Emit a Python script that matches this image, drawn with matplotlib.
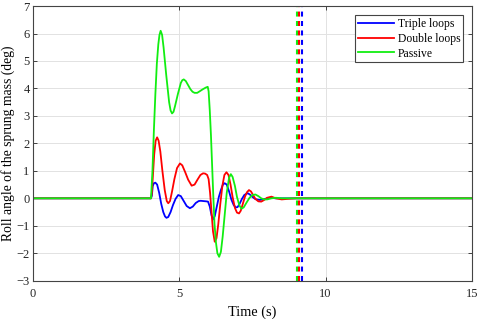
import matplotlib
matplotlib.use("Agg")
import matplotlib.pyplot as plt

plt.rcParams['font.family'] = ['Liberation Serif', 'DejaVu Serif']
plt.rcParams['lines.scale_dashes'] = False

# roll angle (deg)
t_triple = [0, 4.03, 4.06, 4.09, 4.13, 4.18, 4.24, 4.31, 4.38, 4.45, 4.51, 4.56, 4.62,
            4.70, 4.78, 4.87, 4.96, 5.05, 5.15, 5.25, 5.36, 5.46, 5.56, 5.66, 5.73,
            5.82, 5.92, 5.98, 6.04, 6.10, 6.15, 6.21, 6.28, 6.35, 6.42, 6.49, 6.55,
            6.62, 6.70, 6.78, 6.86, 6.93, 6.99, 7.06, 7.14, 7.22, 7.30, 7.35, 7.42,
            7.50, 7.60, 7.75, 7.90, 8.10, 8.30, 8.60, 15]
v_triple = [0, 0, 0.1, 0.45, 0.55, 0.57, 0.5, 0.2, -0.2, -0.5, -0.66, -0.71, -0.68,
            -0.5, -0.25, -0.02, 0.12, 0.08, -0.1, -0.28, -0.36, -0.3, -0.17, -0.1, -0.09,
            -0.1, -0.11, -0.12, -0.3, -0.62, -0.77, -0.65, -0.3, 0.05, 0.3, 0.5, 0.55,
            0.5, 0.25, -0.05, -0.25, -0.33, -0.32, -0.2, -0.02, 0.12, 0.17, 0.18, 0.13,
            0.05, -0.03, -0.06, -0.03, 0.02, 0.0, 0.0, 0]

t_double = [0, 4.03, 4.06, 4.10, 4.14, 4.19, 4.24, 4.29, 4.35, 4.42, 4.50, 4.57, 4.62,
            4.68, 4.75, 4.83, 4.92, 5.02, 5.10, 5.20, 5.30, 5.42, 5.52, 5.62, 5.72,
            5.81, 5.88, 5.95, 6.00, 6.05, 6.10, 6.15, 6.21, 6.27, 6.33, 6.40, 6.47,
            6.54, 6.61, 6.68, 6.75, 6.82, 6.90, 6.97, 7.04, 7.10, 7.17, 7.24, 7.31,
            7.38, 7.45, 7.52, 7.60, 7.70, 7.80, 7.90, 8.00, 8.15, 8.30, 8.50, 8.70,
            9.0, 15]
v_double = [0, 0, 0.2, 0.9, 1.6, 2.1, 2.22, 2.1, 1.7, 1.0, 0.3, -0.1, -0.18,
            -0.1, 0.25, 0.7, 1.1, 1.27, 1.2, 0.95, 0.68, 0.46, 0.5, 0.68, 0.85,
            0.91, 0.9, 0.85, 0.7, 0.2, -0.5, -1.2, -1.58, -1.45, -0.95, -0.2, 0.45,
            0.85, 0.95, 0.85, 0.5, 0.05, -0.35, -0.52, -0.55, -0.45, -0.2, 0.05, 0.22,
            0.30, 0.25, 0.12, -0.02, -0.11, -0.12, -0.06, 0.02, 0.06, 0.0, -0.04, -0.02,
            0, 0]

t_passive = [0, 4.03, 4.08, 4.13, 4.18, 4.23, 4.28, 4.32, 4.36, 4.41, 4.46, 4.55, 4.65,
             4.70, 4.75, 4.80, 4.85, 4.95, 5.05, 5.10, 5.15, 5.22, 5.30, 5.38, 5.45,
             5.52, 5.61, 5.70, 5.80, 5.90, 5.97, 6.00, 6.04, 6.08, 6.12, 6.16, 6.20,
             6.25, 6.30, 6.36, 6.42, 6.48, 6.55, 6.62, 6.70, 6.76, 6.82, 6.90, 6.97,
             7.05, 7.12, 7.20, 7.30, 7.40, 7.50, 7.60, 7.70, 7.80, 7.90, 8.00, 8.15,
             8.30, 8.50, 15]
v_passive = [0, 0, 1.0, 2.5, 3.8, 4.9, 5.6, 5.95, 6.1, 5.95, 5.5, 4.5, 3.5,
             3.2, 3.09, 3.15, 3.35, 3.8, 4.2, 4.3, 4.33, 4.27, 4.12, 3.97, 3.88,
             3.84, 3.84, 3.9, 3.97, 4.03, 4.06, 3.9, 3.2, 2.3, 1.2, 0.1, -0.9,
             -1.6, -2.0, -2.13, -1.95, -1.4, -0.6, 0.2, 0.75, 0.88, 0.78, 0.45, 0.05,
             -0.25, -0.38, -0.33, -0.15, 0.02, 0.12, 0.14, 0.08, 0.0, -0.04, -0.04, 0.0,
             0.02, 0.0, 0]

# settling-time markers (s)
settle_passive = 9.02
settle_double = 9.09
settle_triple = 9.18

fig = plt.figure(figsize=(4.8, 3.19), dpi=100)
ax = fig.add_axes([0.069, 0.12, 0.914, 0.861])

ax.plot(t_triple, v_triple, color='#0000ff', lw=1.3, label='Triple loops')
ax.plot(t_double, v_double, color='#ff0000', lw=1.3, label='Double loops')
ax.plot(t_passive, v_passive, color='#11ee11', lw=1.3, label='Passive')

for x, c in [(settle_passive, '#11ee11'), (settle_double, '#ff0000'), (settle_triple, '#0000ff')]:
    ax.axvline(x, color=c, lw=1.5, dashes=(3.6, 3.2))

ax.set_xlim(0, 15)
ax.set_ylim(-3, 7)
ax.set_xticks([0, 5, 10, 15])
ax.set_yticks(range(-3, 8))
ax.grid(True, color='#e2e2e2', lw=0.7)
ax.set_axisbelow(True)
ax.tick_params(direction='in', top=True, right=True, labelsize=9,
               colors='#262626', length=3, width=0.6)
ax.tick_params(axis='x', pad=5)
ax.tick_params(axis='y', pad=2.5)
for s in ax.spines.values():
    s.set_color('#444444')
    s.set_linewidth(0.8)

ax.set_xlabel('Time (s)', fontsize=10.3, labelpad=4)
ax.set_ylabel('Roll angle of the sprung mass (deg)', fontsize=9.8, labelpad=1)

leg = ax.legend(loc='upper right', fontsize=8.4, fancybox=False, framealpha=1,
                edgecolor='#444444', handlelength=3.1, borderpad=0.25,
                labelspacing=0.25, handletextpad=0.3, borderaxespad=0.75)
leg.get_frame().set_linewidth(0.8)

fig.savefig('out.png', dpi=100)
